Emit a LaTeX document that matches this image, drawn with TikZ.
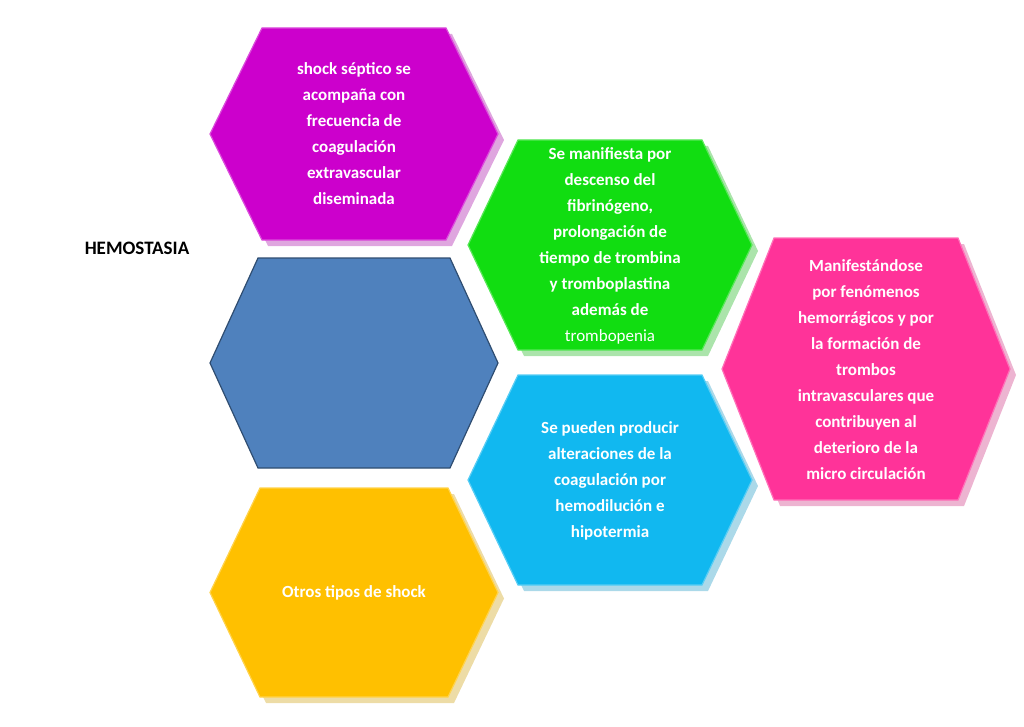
\documentclass[tikz,border=0pt]{standalone}
\usepackage{fontspec}
\setmainfont{Carlito}
\begin{document}
\begin{tikzpicture}[x=1pt,y=-1pt,
  hexa/.style={line width=1.2pt},
  txt/.style={text=white,font=\bfseries\fontsize{17}{26}\selectfont,align=center}]
\useasboundingbox (0,0) rectangle (1024,727);
\definecolor{mag}{HTML}{CC00CC}
\definecolor{grn}{HTML}{11DD11}
\definecolor{cyn}{HTML}{11B8F0}
\definecolor{pnk}{HTML}{FF3399}
\definecolor{yel}{HTML}{FFC000}
\definecolor{blu}{HTML}{4F81BD}
% hexagon macro: left x, top y, width, height, inset
\newcommand\hexg[6]{\fill[#6!80!black,opacity=0.35] ({#1+6},{#2+#4/2+6}) -- ({#1+#5+6},{#2+6}) -- ({#1+#3-#5+6},{#2+6}) -- ({#1+#3+6},{#2+#4/2+6}) -- ({#1+#3-#5+6},{#2+#4+6}) -- ({#1+#5+6},{#2+#4+6}) -- cycle;
\filldraw[hexa,fill=#6,draw=#6!70!white] (#1,{#2+#4/2}) -- ({#1+#5},#2) -- ({#1+#3-#5},#2) -- ({#1+#3},{#2+#4/2}) -- ({#1+#3-#5},{#2+#4}) -- ({#1+#5},{#2+#4}) -- cycle;}
\hexg{210}{28}{288}{212}{52}{mag}
\hexg{468}{140}{284}{210}{50}{grn}
\hexg{722}{238}{288}{262}{52}{pnk}
\hexg{468}{375}{284}{210}{50}{cyn}
\hexg{210}{488}{288}{209}{50}{yel}
\filldraw[hexa,fill=blu,draw=blu!60!black] (210,363) -- (258,258) -- (450,258) -- (498,363) -- (450,468) -- (258,468) -- cycle;
\node[font=\bfseries\fontsize{19}{22}\selectfont] (h) at (137,248) {HEMOSTASIA};
\node[txt] (t1) at (354,134) {shock séptico se\\acompaña con\\frecuencia de\\coagulación\\extravascular\\diseminada};
\node[txt] (t2) at (610,246) {Se manifiesta por\\descenso del\\fibrinógeno,\\prolongación de\\tiempo de trombina\\y tromboplastina\\además de\\\mdseries trombopenia};
\node[txt] (t3) at (866,370) {Manifestándose\\por fenómenos\\hemorrágicos y por\\la formación de\\trombos\\intravasculares que\\contribuyen al\\deterioro de la\\micro circulación};
\node[txt] (t4) at (610,481) {Se pueden producir\\alteraciones de la\\coagulación por\\hemodilución e\\hipotermia};
\node[txt] (t5) at (354,593) {Otros tipos de shock};
\end{tikzpicture}
\end{document}
